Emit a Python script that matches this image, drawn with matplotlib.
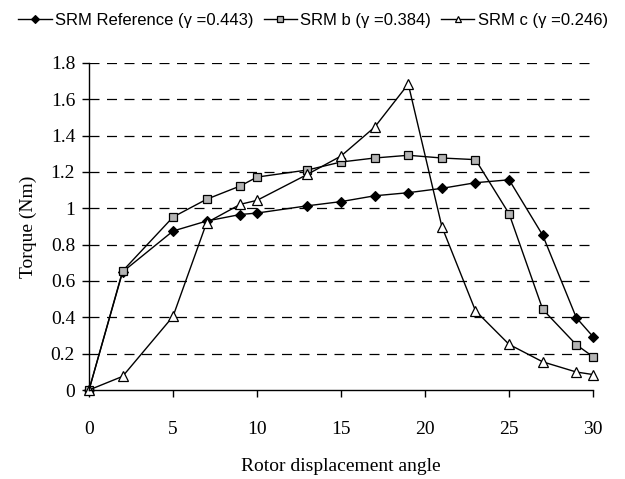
import matplotlib
matplotlib.use("Agg")
import matplotlib.pyplot as plt

# Rotor angle samples and torque curves
angle = [0, 2, 5, 7, 9, 10, 13, 15, 17, 19, 21, 23, 25, 27, 29, 30]
torque_ref = [0, 0.65, 0.875, 0.93, 0.966, 0.974, 1.014, 1.037, 1.069, 1.086,
              1.11, 1.141, 1.157, 0.852, 0.398, 0.293]
torque_b = [0, 0.655, 0.952, 1.05, 1.123, 1.172, 1.211, 1.255, 1.277, 1.292,
            1.277, 1.268, 0.970, 0.444, 0.249, 0.183]
torque_c = [0, 0.075, 0.405, 0.921, 1.022, 1.044, 1.187, 1.288, 1.447, 1.684,
            0.899, 0.436, 0.251, 0.155, 0.099, 0.085]

labels = ["SRM Reference (\u03b3 =0.443)", "SRM b (\u03b3 =0.384)", "SRM c (\u03b3 =0.246)"]
yticks = [0, 0.2, 0.4, 0.6, 0.8, 1, 1.2, 1.4, 1.6, 1.8]
ytick_labels = ["0", "0.2", "0.4", "0.6", "0.8", "1", "1.2", "1.4", "1.6", "1.8"]
xticks = [0, 5, 10, 15, 20, 25, 30]

serif = "Liberation Serif"
sans = "Liberation Sans"

fig = plt.figure(figsize=(6.25, 4.79), dpi=100)
ax = fig.add_axes([0.1424, 0.1858, 0.8066, 0.6827])

# dashed horizontal guides
for y in yticks[1:]:
    ax.axhline(y, xmax=0.992, color="black", lw=0.9, ls=(0, (8, 6)), zorder=1)

common = dict(color="black", lw=1.0, zorder=3, clip_on=False)
ax.plot(angle, torque_ref, marker="D", ms=5.5, mfc="black", mec="black",
        mew=0.8, label=labels[0], **common)
ax.plot(angle, torque_b, marker="s", ms=5.2, mfc="#b4b4b4", mec="black",
        mew=0.9, label=labels[1], **common)
ax.plot(angle, torque_c, marker="^", ms=6.8, mfc="white", mec="black",
        mew=0.9, label=labels[2], **common)

ax.set_xlim(0, 30)
ax.set_ylim(0, 1.8)
ax.set_xticks(xticks)
ax.set_xticklabels([str(v) for v in xticks], fontfamily=serif, fontsize=14)
ax.set_yticks(yticks)
ax.set_yticklabels(ytick_labels, fontfamily=serif, fontsize=14)
ax.tick_params(axis="both", direction="out", length=5, width=1.0)
ax.tick_params(axis="x", pad=17)
ax.tick_params(axis="y", pad=5)

for s in ["top", "right"]:
    ax.spines[s].set_visible(False)
for s in ["left", "bottom"]:
    ax.spines[s].set_linewidth(1.0)
    ax.spines[s].set_zorder(4)

ax.set_xlabel("Rotor displacement angle", fontfamily=serif, fontsize=14, labelpad=15)
ax.set_ylabel("Torque (Nm)", fontfamily=serif, fontsize=14, labelpad=10)

fig.legend(loc="upper left", bbox_to_anchor=(0.012, 0.995), ncol=3, frameon=False,
           prop={"family": sans, "size": 12}, handlelength=2.0, markerscale=0.7,
           handletextpad=0.2, columnspacing=0.6, borderaxespad=0.25)

fig.savefig("out.png", dpi=100)
